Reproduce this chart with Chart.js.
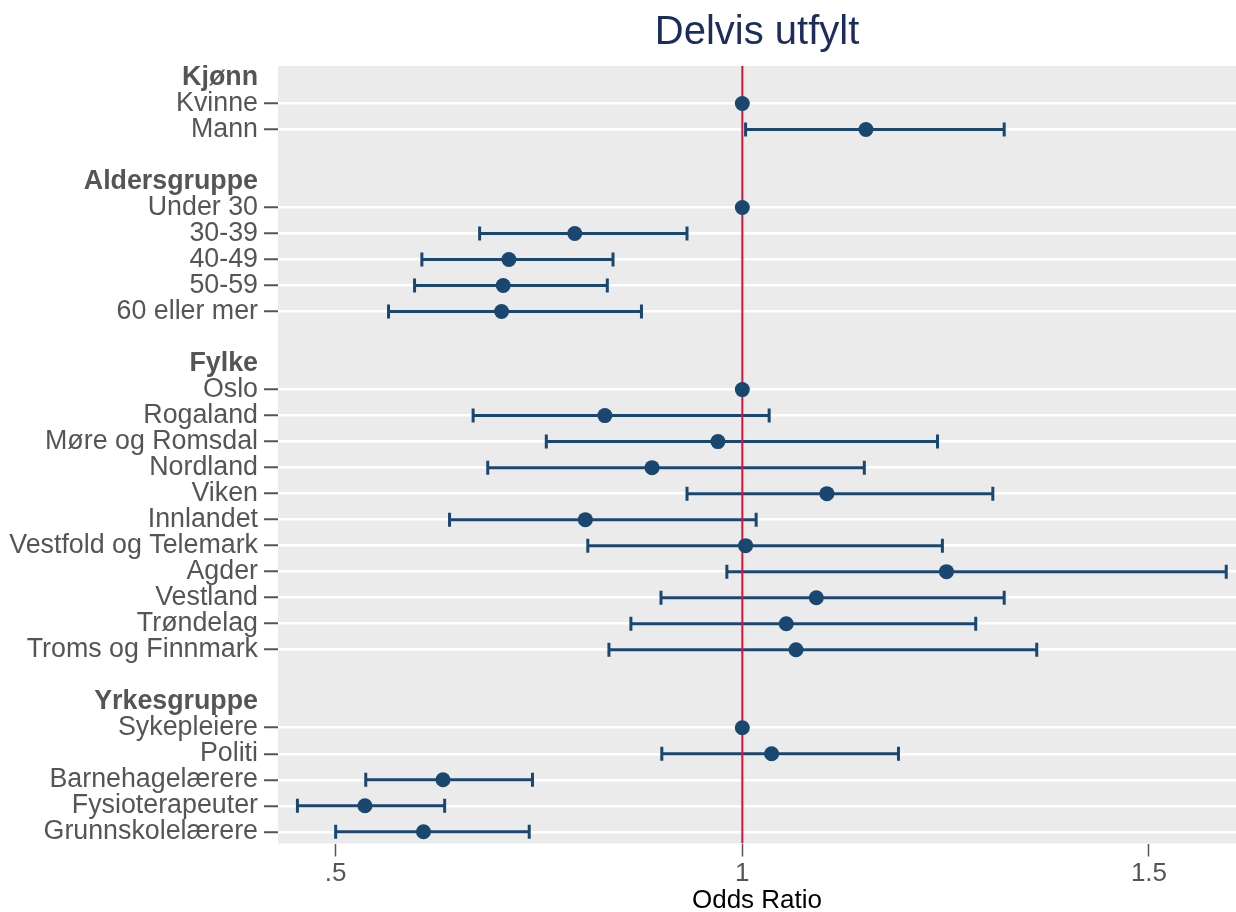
<!DOCTYPE html>
<html>
<head>
<meta charset="utf-8">
<script src="https://cdn.jsdelivr.net/npm/chart.js@4/dist/chart.umd.min.js"></script>
<style>
  html, body { margin: 0; padding: 0; background: #ffffff; }
  #wrap { width: 1236px; height: 912px; }
</style>
</head>
<body>
<div id="wrap"><canvas id="c" width="1236" height="912"></canvas></div>
<script>
// ---- data ----
const categories = [
  "Kjønn", "Kvinne", "Mann", "",
  "Aldersgruppe", "Under 30", "30-39", "40-49", "50-59", "60 eller mer", "",
  "Fylke", "Oslo", "Rogaland", "Møre og Romsdal", "Nordland", "Viken", "Innlandet",
  "Vestfold og Telemark", "Agder", "Vestland", "Trøndelag", "Troms og Finnmark", "",
  "Yrkesgruppe", "Sykepleiere", "Politi", "Barnehagelærere", "Fysioterapeuter", "Grunnskolelærere"
];
const headers = ["Kjønn", "Aldersgruppe", "Fylke", "Yrkesgruppe"];
const oddsRatio = [
  null, 1, 1.152, null,
  null, 1, 0.794, 0.713, 0.706, 0.704, null,
  null, 1, 0.831, 0.970, 0.889, 1.104, 0.807,
  1.004, 1.251, 1.091, 1.054, 1.066, null,
  null, 1, 1.036, 0.632, 0.536, 0.608
];
const ciLower = [
  null, null, 1.004, null,
  null, null, 0.677, 0.606, 0.597, 0.565, null,
  null, null, 0.669, 0.759, 0.687, 0.932, 0.640,
  0.810, 0.981, 0.900, 0.863, 0.836, null,
  null, null, 0.901, 0.537, 0.453, 0.500
];
const ciUpper = [
  null, null, 1.322, null,
  null, null, 0.932, 0.841, 0.834, 0.876, null,
  null, null, 1.033, 1.240, 1.150, 1.308, 1.017,
  1.246, 1.595, 1.322, 1.287, 1.362, null,
  null, null, 1.192, 0.742, 0.634, 0.738
];
const xTickValues = [0.5, 1, 1.5];
const xTickLabels = [".5", "1", "1.5"];
const referenceValue = 1;
const titleText = "Delvis utfylt";
const xAxisTitle = "Odds Ratio";

// ---- styles ----
const NAVY = "#1a476f";
const RED = "#d9133b";
const FONT = "'Liberation Sans', Arial, sans-serif";
const Y_MIN = -0.44, Y_MAX = 29.45;
const X_MIN = 0.4291, X_MAX = 1.607;

const datasets = [];

// points
datasets.push({
  type: 'scatter',
  label: 'or',
  data: categories.map((c, i) => oddsRatio[i] == null ? null : { x: oddsRatio[i], y: i }).filter(d => d),
  pointRadius: 7.5,
  pointHoverRadius: 7.5,
  backgroundColor: NAVY,
  borderWidth: 0,
  order: 0
});

// reference line at OR = 1
datasets.push({
  type: 'scatter',
  label: 'ref',
  data: [{ x: referenceValue, y: Y_MIN }, { x: referenceValue, y: Y_MAX }],
  showLine: true,
  borderColor: RED,
  borderWidth: 2,
  pointRadius: 0,
  order: 1
});

// caps
const caps = [];
categories.forEach((c, i) => {
  if (ciLower[i] != null) { caps.push({ x: ciLower[i], y: i }); caps.push({ x: ciUpper[i], y: i }); }
});
datasets.push({
  type: 'scatter',
  label: 'caps',
  data: caps,
  pointStyle: 'line',
  rotation: 90,
  pointRadius: 7,
  pointHoverRadius: 7,
  borderColor: NAVY,
  pointBorderWidth: 3,
  borderWidth: 3,
  order: 2
});

// CI lines
categories.forEach((c, i) => {
  if (ciLower[i] != null) {
    datasets.push({
      type: 'scatter',
      label: 'ci' + i,
      data: [{ x: ciLower[i], y: i }, { x: ciUpper[i], y: i }],
      showLine: true,
      borderColor: NAVY,
      borderWidth: 3,
      borderCapStyle: 'butt',
      pointRadius: 0,
      order: 3
    });
  }
});

const bgPlugin = {
  id: 'plotbg',
  beforeDraw(chart) {
    const { ctx, chartArea: a } = chart;
    ctx.save();
    ctx.fillStyle = '#ebebeb';
    ctx.fillRect(a.left, a.top, a.right - a.left, a.bottom - a.top);
    ctx.restore();
  }
};

const isHeader = v => headers.includes(categories[v]);

new Chart(document.getElementById('c'), {
  type: 'scatter',
  data: { datasets },
  plugins: [bgPlugin],
  options: {
    responsive: false,
    animation: false,
    devicePixelRatio: 1,
    layout: { padding: 0, autoPadding: false },
    plugins: {
      legend: { display: false },
      tooltip: { enabled: false },
      title: {
        display: true,
        text: titleText,
        color: '#1c2c5c',
        fullSize: false,
        font: { family: FONT, size: 40, weight: 'normal', lineHeight: 1.2 },
        padding: { top: 9, bottom: 9 }
      }
    },
    scales: {
      x: {
        type: 'linear',
        min: X_MIN,
        max: X_MAX,
        afterBuildTicks: s => { s.ticks = xTickValues.map(v => ({ value: v })); },
        afterFit: s => { s.height = 68.5; s.paddingLeft = 0; s.paddingRight = 0; },
        ticks: {
          autoSkip: false,
          maxRotation: 0,
          color: '#555555',
          padding: 2,
          font: { family: FONT, size: 26 },
          callback: v => { const k = xTickValues.indexOf(v); return k >= 0 ? xTickLabels[k] : ''; }
        },
        grid: {
          drawOnChartArea: false,
          drawTicks: true,
          tickLength: 13,
          tickColor: '#555555',
          tickWidth: 1.5
        },
        border: { display: false },
        title: {
          display: true,
          text: xAxisTitle,
          color: '#000000',
          font: { family: FONT, size: 26, lineHeight: 0.85 },
          padding: { top: 0, bottom: 0 }
        }
      },
      y: {
        type: 'linear',
        reverse: true,
        min: Y_MIN,
        max: Y_MAX,
        afterBuildTicks: s => {
          s.ticks = categories.map((c, i) => ({ value: i })).filter(t => categories[t.value] !== '');
        },
        afterFit: s => { s.width = 278; s.paddingTop = 0; s.paddingBottom = 0; },
        ticks: {
          autoSkip: false,
          color: '#555555',
          padding: 6,
          font: ctx => ({ family: FONT, size: 26.8, weight: (ctx.tick && isHeader(ctx.tick.value)) ? 'bold' : 'normal' }),
          callback: v => categories[v]
        },
        grid: {
          color: ctx => (ctx.tick && isHeader(ctx.tick.value)) ? 'rgba(0,0,0,0)' : '#ffffff',
          lineWidth: 2.5,
          drawTicks: true,
          tickLength: 14,
          tickWidth: 2,
          tickColor: ctx => (ctx.tick && isHeader(ctx.tick.value)) ? 'rgba(0,0,0,0)' : '#555555'
        },
        border: { display: false }
      }
    }
  }
});
</script>
</body>
</html>
